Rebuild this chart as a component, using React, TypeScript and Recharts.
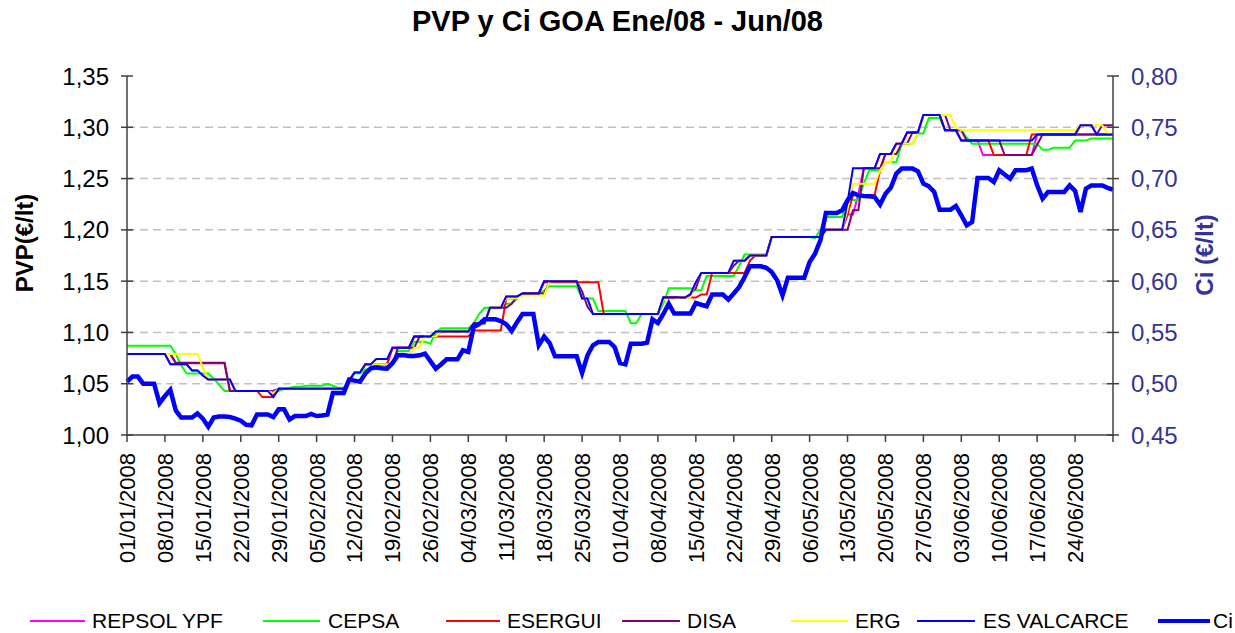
import React from 'react';
import { LineChart, Line, XAxis, YAxis, ReferenceLine } from 'recharts';

// daily categories, 01/01/2008 .. 01/07/2008
const START = new Date(2008, 0, 1);
const DAYS = 183;
const pad = (n: number) => (n < 10 ? '0' + n : '' + n);
const DATES: string[] = Array.from({ length: DAYS }, (_, i) => {
  const d = new Date(START.getFullYear(), START.getMonth(), START.getDate() + i);
  return `${pad(d.getDate())}/${pad(d.getMonth() + 1)}/${d.getFullYear()}`;
});

// pump prices as [price, number of days the price is held]
const REPSOL_RUNS: [number, number][] = [
  [1.079, 8], [1.069, 4], [1.063, 2], [1.058, 1], [1.054, 5], [1.043, 7], [1.040, 1], [1.045, 13],
  [1.053, 1], [1.061, 2], [1.069, 5], [1.085, 4], [1.096, 4], [1.101, 7], [1.109, 3], [1.124, 3],
  [1.135, 3], [1.138, 4], [1.150, 7], [1.133, 2], [1.118, 13],
  [1.134, 5], [1.137, 1], [1.149, 1], [1.158, 6], [1.170, 3], [1.175, 4], [1.193, 10], [1.200, 4],
  [1.215, 2], [1.235, 1], [1.260, 3], [1.274, 3], [1.284, 2], [1.295, 3], [1.312, 4], [1.297, 3],
  [1.287, 4], [1.273, 10], [1.293, 8], [1.302, 3], [1.293, 4],
];
const CEPSA_RUNS: [number, number][] = [
  [1.087, 9], [1.079, 1], [1.068, 1], [1.060, 5], [1.055, 1], [1.049, 1], [1.043, 11], [1.045, 1],
  [1.046, 1], [1.047, 2], [1.048, 4], [1.050, 1], [1.048, 1], [1.046, 2],
  [1.052, 1], [1.060, 2], [1.064, 5], [1.072, 1], [1.082, 3], [1.091, 3], [1.089, 1], [1.100, 1],
  [1.104, 6], [1.109, 1], [1.118, 1], [1.124, 4], [1.128, 2], [1.133, 1], [1.138, 4], [1.141, 1],
  [1.145, 6], [1.133, 3], [1.121, 6],
  [1.109, 2], [1.118, 4], [1.128, 1], [1.143, 5], [1.141, 2], [1.155, 6], [1.165, 1], [1.176, 5],
  [1.193, 8], [1.192, 1], [1.200, 1], [1.2125, 4], [1.229, 3], [1.245, 1], [1.258, 3], [1.266, 3],
  [1.284, 3], [1.294, 2], [1.309, 3], [1.297, 4], [1.290, 1], [1.284, 13], [1.278, 2], [1.280, 4],
  [1.287, 3], [1.289, 5],
];
const ESERGUI_RUNS: [number, number][] = [
  [1.079, 9], [1.070, 10], [1.043, 6], [1.037, 3], [1.045, 13],
  [1.053, 1], [1.061, 2], [1.069, 5], [1.085, 4], [1.096, 11], [1.102, 6], [1.133, 3], [1.138, 4],
  [1.149, 11], [1.118, 11],
  [1.134, 7], [1.137, 2], [1.158, 7], [1.170, 1], [1.175, 3], [1.193, 10], [1.200, 4], [1.215, 1],
  [1.234, 5], [1.258, 1], [1.274, 2], [1.284, 2], [1.295, 3], [1.312, 4], [1.297, 3], [1.287, 6],
  [1.273, 7], [1.293, 16],
];
const DISA_RUNS: [number, number][] = [
  [1.079, 9], [1.0705, 10], [1.043, 9], [1.045, 13],
  [1.053, 1], [1.061, 2], [1.069, 6], [1.085, 4], [1.096, 4], [1.101, 6], [1.109, 3], [1.124, 4],
  [1.128, 1], [1.135, 1], [1.138, 5], [1.150, 6], [1.140, 1], [1.125, 1], [1.118, 13],
  [1.134, 5], [1.137, 1], [1.143, 1], [1.158, 6], [1.165, 1], [1.170, 2], [1.175, 4], [1.193, 10],
  [1.200, 5], [1.219, 2], [1.260, 4], [1.274, 3], [1.284, 2], [1.295, 2], [1.312, 5], [1.297, 3],
  [1.287, 7], [1.273, 6], [1.283, 1], [1.293, 11], [1.302, 3],
];
const ERG_RUNS: [number, number][] = [
  [1.079, 14], [1.066, 1], [1.054, 5], [1.043, 7], [1.041, 1], [1.045, 13],
  [1.053, 1], [1.061, 2], [1.069, 6], [1.078, 3], [1.085, 2], [1.096, 3], [1.101, 6], [1.109, 3],
  [1.124, 3], [1.133, 3], [1.136, 5], [1.150, 6], [1.133, 2], [1.118, 13],
  [1.132, 3], [1.134, 3], [1.149, 1], [1.158, 6], [1.170, 3], [1.175, 4], [1.193, 10], [1.200, 4],
  [1.220, 1], [1.245, 5], [1.258, 1], [1.266, 2], [1.284, 4], [1.294, 1], [1.312, 6], [1.300, 1],
  [1.297, 22], [1.302, 5], [1.294, 2],
];
const VALCARCE_RUNS: [number, number][] = [
  [1.079, 8], [1.069, 4], [1.063, 2], [1.058, 1], [1.054, 5], [1.043, 7], [1.037, 1], [1.045, 13],
  [1.053, 1], [1.061, 2], [1.069, 2], [1.074, 3], [1.085, 4], [1.096, 4], [1.101, 7], [1.109, 3],
  [1.124, 3], [1.135, 3], [1.138, 4], [1.150, 7], [1.133, 2], [1.118, 13],
  [1.134, 5], [1.137, 1], [1.149, 1], [1.158, 6], [1.170, 3], [1.175, 4], [1.193, 10], [1.200, 4],
  [1.227, 1], [1.260, 5], [1.274, 3], [1.284, 2], [1.295, 3], [1.312, 4], [1.297, 3], [1.287, 14],
  [1.293, 8], [1.302, 3], [1.293, 4],
];

// Ci, one row per week
const CI: number[] = [
  0.502, 0.507, 0.507, 0.500, 0.500, 0.500, 0.481,
  0.488, 0.494, 0.474, 0.467, 0.467, 0.467, 0.471,
  0.466, 0.458, 0.467, 0.468, 0.468, 0.4675, 0.466,
  0.464, 0.460, 0.4595, 0.470, 0.470, 0.470, 0.4675,
  0.475, 0.475, 0.465, 0.4685, 0.4685, 0.4685, 0.4705,
  0.4685, 0.469, 0.470, 0.491, 0.491, 0.491, 0.504,
  0.503, 0.502, 0.510, 0.515, 0.516, 0.515, 0.5147,
  0.520, 0.5277, 0.528, 0.527, 0.527, 0.5277, 0.5294,
  0.522, 0.5147, 0.519, 0.5238, 0.5238, 0.5238, 0.5326,
  0.531, 0.5553, 0.558, 0.5628, 0.5628, 0.5628, 0.561,
  0.558, 0.5514, 0.560, 0.568, 0.568, 0.568, 0.5375,
  0.546, 0.5397, 0.5267, 0.5267, 0.5267, 0.5267, 0.5267,
  0.5105, 0.5277, 0.5375, 0.5407, 0.5407, 0.5407, 0.5358,
  0.5202, 0.519, 0.539, 0.539, 0.539, 0.540, 0.5628,
  0.5592, 0.568, 0.578, 0.5684, 0.5684, 0.5684, 0.5684,
  0.5787, 0.577, 0.5755, 0.5869, 0.5869, 0.5869, 0.582,
  0.588, 0.5943, 0.604, 0.6145, 0.6145, 0.6145, 0.613,
  0.6089, 0.6008, 0.5862, 0.6034, 0.6034, 0.6034, 0.6034,
  0.6187, 0.6268, 0.640, 0.6664, 0.6664, 0.6664, 0.669,
  0.6788, 0.6859, 0.6837, 0.683, 0.6827, 0.682, 0.6746,
  0.6853, 0.6912, 0.7048, 0.7097, 0.7097, 0.7097, 0.7071,
  0.6951, 0.6925, 0.6869, 0.6697, 0.6697, 0.6697, 0.6733,
  0.6642, 0.6544, 0.6577, 0.7006, 0.7006, 0.7006, 0.6967,
  0.7081, 0.704, 0.6999, 0.7081, 0.7081, 0.7081, 0.7097,
  0.6934, 0.6805, 0.6869, 0.6869, 0.6869, 0.6869, 0.6934,
  0.6879, 0.6674, 0.6902, 0.6932, 0.6932, 0.6932, 0.691,
  0.6892,
];

const PVP_TICKS = [1.0, 1.05, 1.1, 1.15, 1.2, 1.25, 1.3, 1.35];
const CI_TICKS = [0.45, 0.5, 0.55, 0.6, 0.65, 0.7, 0.75, 0.8];
const GRID_VALUES = [1.05, 1.1, 1.15, 1.2, 1.25, 1.3];

const SERIES = [
  { key: 'repsol', name: 'REPSOL YPF', color: '#FF00FF' },
  { key: 'cepsa', name: 'CEPSA', color: '#00FF00' },
  { key: 'esergui', name: 'ESERGUI', color: '#FF0000' },
  { key: 'disa', name: 'DISA', color: '#800080' },
  { key: 'erg', name: 'ERG', color: '#FFFF00' },
  { key: 'valcarce', name: 'ES VALCARCE', color: '#0000FF' },
];

const expand = (runs: [number, number][]) => runs.flatMap(([v, n]) => Array(n).fill(v));

const REPSOL = expand(REPSOL_RUNS);
const CEPSA = expand(CEPSA_RUNS);
const ESERGUI = expand(ESERGUI_RUNS);
const DISA = expand(DISA_RUNS);
const ERG = expand(ERG_RUNS);
const VALCARCE = expand(VALCARCE_RUNS);

const data = DATES.map((date, i) => ({
  date,
  repsol: REPSOL[i],
  cepsa: CEPSA[i],
  esergui: ESERGUI[i],
  disa: DISA[i],
  erg: ERG[i],
  valcarce: VALCARCE[i],
  ci: CI[i],
}));

const FONT = "'Liberation Sans', Arial, sans-serif";
const AXIS = '#404040';
const NAVY = '#333399';
const TICK = 6;
const MARGIN = 12;

const comma = (v: number) => v.toFixed(2).replace('.', ',');

const LeftTick = (props: any) => {
  const { x, y, payload } = props;
  const ax = x + MARGIN + TICK;
  return (
    <g>
      <line x1={ax} x2={ax + TICK} y1={y} y2={y} stroke={AXIS} strokeWidth={1.5} />
      <text x={x} y={y} dy="0.36em" textAnchor="end" fontSize={24} fontFamily={FONT} fill="#000">
        {comma(payload.value)}
      </text>
    </g>
  );
};

const RightTick = (props: any) => {
  const { x, y, payload } = props;
  const ax = x - MARGIN - TICK;
  return (
    <g>
      <line x1={ax - TICK} x2={ax} y1={y} y2={y} stroke={AXIS} strokeWidth={1.5} />
      <text x={x} y={y} dy="0.36em" textAnchor="start" fontSize={24} fontFamily={FONT} fill={NAVY}>
        {comma(payload.value)}
      </text>
    </g>
  );
};

const DateTick = (props: any) => {
  const { x, y, payload } = props;
  if (payload.value === DATES[DATES.length - 1]) return <g />;
  return (
    <text
      x={x}
      y={y}
      dy="0.36em"
      transform={`rotate(-90, ${x}, ${y})`}
      textAnchor="end"
      fontSize={22}
      fontFamily={FONT}
      fill="#000"
    >
      {payload.value}
    </text>
  );
};

const LEGEND = [
  { name: 'REPSOL YPF', color: '#FF00FF', x1: 30, x2: 85, tx: 92, w: 2 },
  { name: 'CEPSA', color: '#00FF00', x1: 263, x2: 320, tx: 328, w: 2 },
  { name: 'ESERGUI', color: '#FF0000', x1: 446, x2: 500, tx: 507, w: 2 },
  { name: 'DISA', color: '#800080', x1: 622, x2: 680, tx: 687, w: 2 },
  { name: 'ERG', color: '#FFFF00', x1: 791, x2: 848, tx: 855, w: 2 },
  { name: 'ES VALCARCE', color: '#0000FF', x1: 917, x2: 975, tx: 983, w: 2 },
  { name: 'Ci', color: '#0000FF', x1: 1158, x2: 1210, tx: 1213, w: 4.5 },
];

export default function App() {
  return (
    <div style={{ position: 'absolute', left: 0, top: 0, width: 1235, height: 633, background: '#fff', fontFamily: FONT, overflow: 'hidden' }}>
      <div style={{ position: 'absolute', top: 5, left: 0, width: 1235, textAlign: 'center', fontSize: 29, fontWeight: 'bold', lineHeight: '33px' }}>
        PVP y Ci GOA Ene/08 - Jun/08
      </div>

      <LineChart width={1235} height={633} data={data} margin={{ top: 76, right: 0, bottom: 0, left: 0 }}>
        {GRID_VALUES.map(v => (
          <ReferenceLine key={v} yAxisId="pvp" y={v} stroke="#c0c0c0" strokeWidth={1.5} strokeDasharray="8 5" />
        ))}
        <XAxis
          dataKey="date"
          scale="point"
          interval={6}
          height={198}
          tick={<DateTick />}
          tickSize={7}
          tickMargin={11}
          stroke={AXIS}
          strokeWidth={1.5}
        />
        <YAxis
          yAxisId="pvp"
          domain={[1.0, 1.35]}
          ticks={PVP_TICKS}
          width={127}
          tick={<LeftTick />}
          tickSize={TICK}
          tickMargin={MARGIN}
          stroke={AXIS}
          strokeWidth={1.5}
          allowDataOverflow
        />
        <YAxis
          yAxisId="ci"
          orientation="right"
          domain={[0.45, 0.8]}
          ticks={CI_TICKS}
          width={122}
          tick={<RightTick />}
          tickSize={TICK}
          tickMargin={MARGIN}
          stroke={AXIS}
          strokeWidth={1.5}
          allowDataOverflow
        />
        {SERIES.map(s => (
          <Line
            key={s.key}
            yAxisId="pvp"
            type="linear"
            dataKey={s.key}
            name={s.name}
            stroke={s.color}
            strokeWidth={2}
            dot={false}
            isAnimationActive={false}
          />
        ))}
        <Line
          yAxisId="ci"
          type="linear"
          dataKey="ci"
          name="Ci"
          stroke="#0000FF"
          strokeWidth={4.5}
          dot={false}
          isAnimationActive={false}
        />
      </LineChart>

      <div style={{ position: 'absolute', left: 25, top: 243, transform: 'translate(-50%, -50%) rotate(-90deg)', fontSize: 24, fontWeight: 'bold', whiteSpace: 'nowrap' }}>
        PVP(€/lt)
      </div>
      <div style={{ position: 'absolute', left: 1205, top: 255, transform: 'translate(-50%, -50%) rotate(-90deg)', fontSize: 24, fontWeight: 'bold', whiteSpace: 'nowrap', color: NAVY }}>
        Ci (€/lt)
      </div>

      {LEGEND.map(l => (
        <React.Fragment key={l.name}>
          <div style={{ position: 'absolute', left: l.x1, top: 621 - l.w / 2, width: l.x2 - l.x1, height: l.w, background: l.color }} />
          <div style={{ position: 'absolute', left: l.tx, top: 608, fontSize: 21, lineHeight: '26px', whiteSpace: 'nowrap' }}>{l.name}</div>
        </React.Fragment>
      ))}
    </div>
  );
}
